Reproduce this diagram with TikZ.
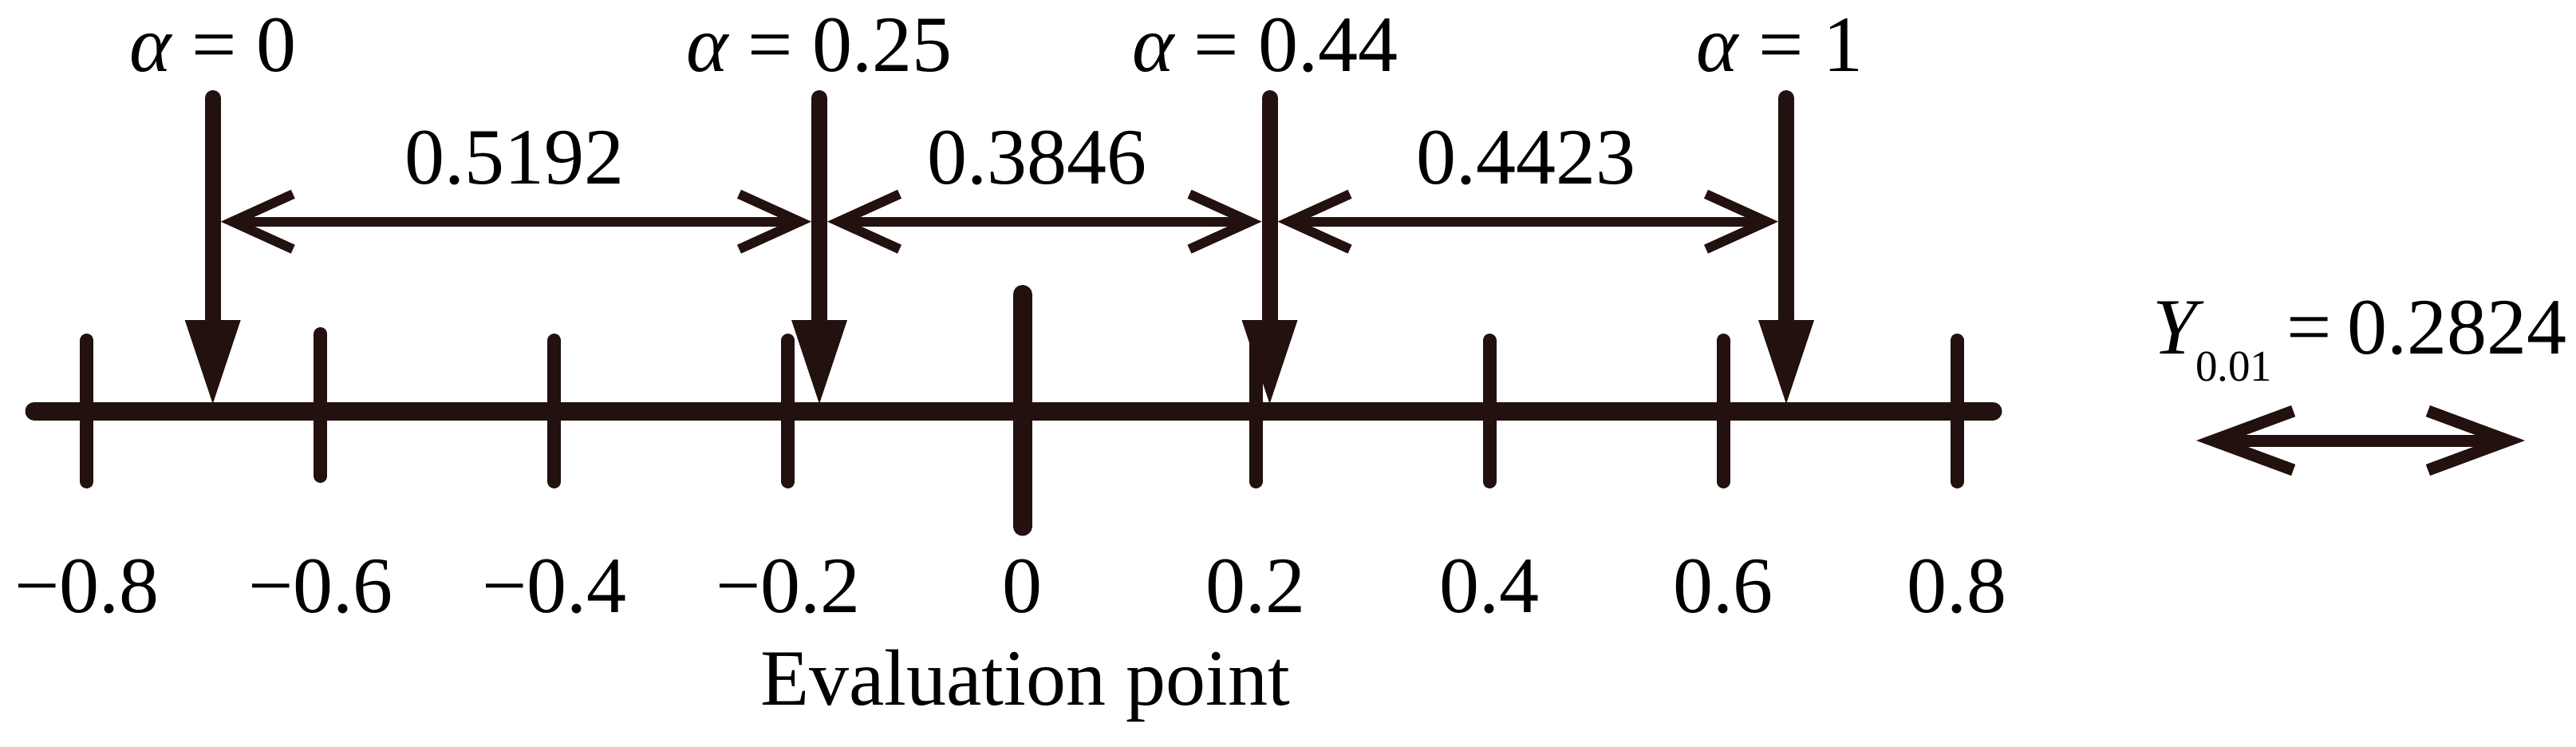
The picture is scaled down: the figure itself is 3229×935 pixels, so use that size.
\documentclass[tikz,border=0pt]{standalone}
\usepackage{fontspec}
\setmainfont{Liberation Serif}
\usetikzlibrary{arrows.meta}
\definecolor{ink}{RGB}{35,17,15}
\begin{document}
\begin{tikzpicture}[x=1pt,y=-1pt,
  lbl/.style={font=\fontsize{100}{110}\selectfont, inner sep=0pt, anchor=base, text=black},
  axisline/.style={draw=ink, line width=23pt, line cap=round},
  tickline/.style={draw=ink, line width=17pt, line cap=round},
  ztick/.style={draw=ink, line width=24pt, line cap=round},
  pointer/.style={draw=ink, line width=20pt, line cap=round,
    -{Triangle[width=70pt,length=105pt,line width=0pt]}},
  dimarrow/.style={draw=ink, line width=12pt,
    {Straight Barb[length=76pt,width=69pt,line width=12pt]}-{Straight Barb[length=76pt,width=69pt,line width=12pt]}},
  yarrow/.style={draw=ink, line width=15pt,
    {Straight Barb[length=100pt,width=74pt,line width=15pt]}-{Straight Barb[length=100pt,width=74pt,line width=15pt]}},
  ]
\useasboundingbox (0,0) rectangle (3229,935);

% axis
\coordinate (axL) at (43,515);
\coordinate (axR) at (2498,515);
\draw[axisline] (axL) -- (axR);

% ticks
\foreach \v/\nm in {-0.8/m8,-0.4/m4,-0.2/m2,0.2/p2,0.4/p4,0.6/p6,0.8/p8}{
  \coordinate (t\nm a) at ({1281+\v*1465.2},426.5);
  \coordinate (t\nm b) at ({1281+\v*1465.2},603.5);
  \draw[tickline] (t\nm a) -- (t\nm b);
}
\coordinate (tm6a) at ({1281-0.6*1465.2},418.5);
\coordinate (tm6b) at ({1281-0.6*1465.2},596.5);
\draw[tickline] (tm6a) -- (tm6b);
\coordinate (tz a) at (1281.5,369);
\coordinate (tz b) at (1281.5,659.5);
\draw[ztick] (tz a) -- (tz b);

% tick labels
\foreach \v/\txt/\nm in {-0.8/{−0.8}/m8,-0.6/{−0.6}/m6,-0.4/{−0.4}/m4,-0.2/{−0.2}/m2,0/{0}/z,0.2/{0.2}/p2,0.4/{0.4}/p4,0.6/{0.6}/p6,0.8/{0.8}/p8}{
  \node[lbl] (l\nm) at ({1281+\v*1465.2},767) {\txt};
}
\node[lbl] (xlabel) at (1285,883) {Evaluation point};

% alpha pointers
\foreach \x/\nm in {266.7/a,1027/b,1591.5/c,2239/d}{
  \coordinate (\nm top) at (\x,123);
  \coordinate (\nm tip) at (\x,506);
  \draw[pointer] (\nm top) -- (\nm tip);
}
\node[lbl] (la) at (267,89) {{\itshape α} = 0};
\node[lbl] (lb) at (1027,89) {{\itshape α} = 0.25};
\node[lbl] (lc) at (1586,89) {{\itshape α} = 0.44};
\node[lbl] (ld) at (2231,89) {{\itshape α} = 1};

% dimension arrows
\coordinate (d1l) at (276.7,277.7);
\coordinate (d1r) at (1017,277.7);
\coordinate (d2l) at (1037,277.7);
\coordinate (d2r) at (1581.5,277.7);
\coordinate (d3l) at (1601.5,277.7);
\coordinate (d3r) at (2229,277.7);
\draw[dimarrow] (d1l) -- (d1r);
\draw[dimarrow] (d2l) -- (d2r);
\draw[dimarrow] (d3l) -- (d3r);
\node[lbl] (v1) at (645,230) {0.5192};
\node[lbl] (v2) at (1300,230) {0.3846};
\node[lbl] (v3) at (1913,230) {0.4423};

% Y legend
\node[lbl, anchor=base east] (ylab) at (3218,443)
  {{\itshape Y}\kern-2pt\raisebox{-34pt}{\fontsize{55}{60}\selectfont 0.01}\hspace{18pt}=\hspace{20pt}0.2824};
\coordinate (yl) at (2753,552);
\coordinate (yr) at (3165,552);
\draw[yarrow] (yl) -- (yr);
\end{tikzpicture}
\end{document}
